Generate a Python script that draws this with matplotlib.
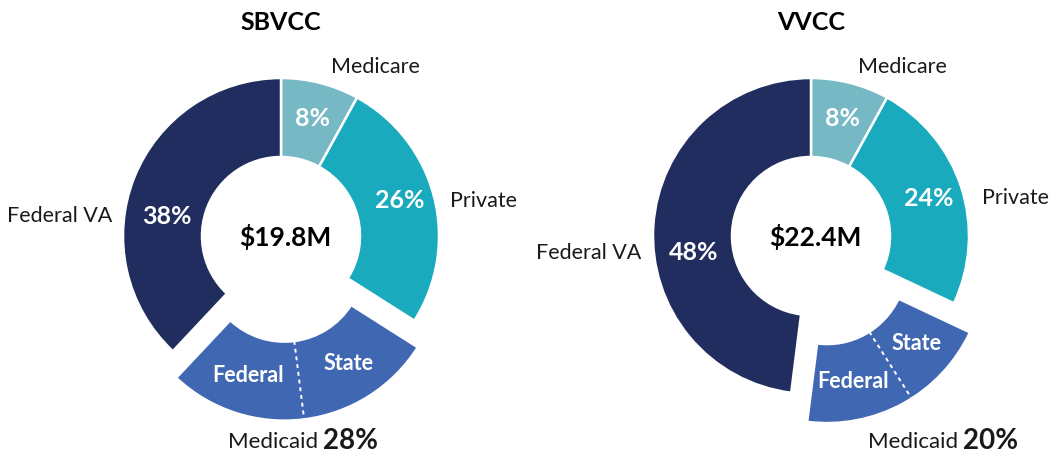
import numpy as np
import matplotlib
matplotlib.use("Agg")
import matplotlib.pyplot as plt

plt.rcParams['font.family'] = ['Lato', 'DejaVu Sans']

# chart data
titles = ["SBVCC", "VVCC"]
totals = ["$19.8M", "$22.4M"]
categories = ["Medicare", "Private", "Medicaid", "Federal VA"]
sbvcc_shares = [8, 26, 28, 38]
vvcc_shares = [8, 24, 20, 48]
# Medicaid split, clockwise order: State then Federal
split_labels = ["State", "Federal"]
sbvcc_medicaid_split = [14, 14]
vvcc_medicaid_split = [9, 11]

colors = ["#76B9C4", "#1AAABD", "#4067B1", "#212D5F"]

W, H = 1053, 455
fig = plt.figure(figsize=(W / 100, H / 100), dpi=100)
ax = fig.add_axes([0, 0, 1, 1])


def Y(y):
    # pixel rows from the top -> data y
    return H - y


R = 158
HOLE = 79


def donut(cx, cy, shares, split, explode, title, total, lay):
    # pie's explode is in data units, so scale by the radius
    wedges, _ = ax.pie(shares, colors=colors, startangle=90, counterclock=False,
                       center=(cx, Y(cy)), radius=R, explode=[0, 0, explode * R, 0],
                       frame=True,
                       wedgeprops=dict(width=R - HOLE, edgecolor='white', linewidth=1.8))

    # dotted divider inside the exploded Medicaid wedge
    mc = np.array(wedges[2].center)
    frac = (shares[0] + shares[1] + split[0]) / sum(shares)
    ang = np.radians(90 - 360 * frac)
    d = np.array([np.cos(ang), np.sin(ang)])
    p0, p1 = mc + HOLE * d, mc + R * d
    ax.plot([p0[0], p1[0]], [p0[1], p1[1]], color='white', lw=1.4,
            ls=(0, (2, 2)), zorder=5)

    # sub labels centred in each half of the Medicaid wedge
    start = (shares[0] + shares[1]) / sum(shares)
    for lab, part in zip(split_labels, split):
        mid = start + part / sum(shares) / 2
        a = np.radians(90 - 360 * mid)
        rr = (R + HOLE) / 2 + 0.5
        ax.text(mc[0] + rr * np.cos(a), mc[1] + rr * np.sin(a), lab,
                color='white', fontsize=15.5, fontweight='bold',
                ha='center', va='center', zorder=6)
        start += part / sum(shares)

    ax.text(cx, Y(22), title, fontsize=18, fontweight='bold',
            ha='center', va='center')
    ax.text(cx + 4, Y(cy + 1), total, fontsize=19, fontweight='bold',
            ha='center', va='center')

    for cat, pos in zip(categories, lay['names']):
        if pos is None:
            continue
        ax.text(pos[0], Y(pos[1]), cat, fontsize=15.5, ha='center', va='center',
                color='#1a1a1a')
    for v, pos in zip(shares, lay['pcts']):
        if pos is None:
            continue
        ax.text(pos[0], Y(pos[1]), f"{v}%", fontsize=18, fontweight='bold',
                color='white', ha='center', va='center')

    mx, my = lay['medicaid']
    ax.text(mx - 3, Y(my), "Medicaid", fontsize=16, ha='right', va='center',
            color='#1a1a1a')
    ax.text(mx + 2, Y(my - 1), f"{shares[2]}%", fontsize=20, fontweight='bold',
            ha='left', va='center', color='#1a1a1a')


sb_layout = {
    'names': [(375, 67), (484, 201), None, (60, 216)],
    'pcts': [(312, 118), (400, 200), None, (167, 217)],
    'medicaid': (321, 442),
}
vv_layout = {
    'names': [(902, 67), (1015, 198), None, (589, 253)],
    'pcts': [(842, 118), (929, 199), None, (694, 253)],
    'medicaid': (961, 442),
}

donut(281, 236, sbvcc_shares, sbvcc_medicaid_split, 0.17, titles[0], totals[0], sb_layout)
donut(811, 236, vvcc_shares, vvcc_medicaid_split, 0.21, titles[1], totals[1], vv_layout)

ax.set_xlim(0, W)
ax.set_ylim(0, H)
ax.set_aspect('equal')
ax.axis('off')

fig.savefig("out.png", dpi=100, facecolor='white')
